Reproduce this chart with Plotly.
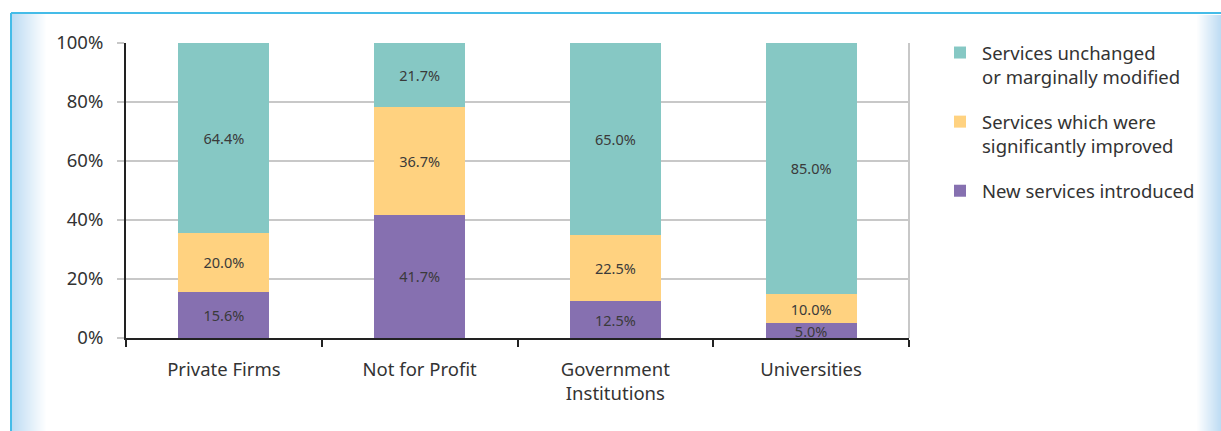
import plotly.graph_objects as go

categories = ["Private Firms", "Not for Profit", "Government<br>Institutions", "Universities"]
new_services = [15.6, 41.7, 12.5, 5.0]
improved = [20.0, 36.7, 22.5, 10.0]
unchanged = [64.4, 21.7, 65.0, 85.0]
series_names = [
    "New services introduced",
    "Services which were<br>significantly improved",
    "Services unchanged<br>or marginally modified",
]

W, H = 1221, 431
ML, MR, MT, MB = 126, W - 909, 43, H - 338
PW, PH = W - ML - MR, H - MT - MB


def px(x):
    return (x - ML) / PW


def py(y):
    return (H - MB - y) / PH


FONT = "Noto Sans"
colors = ["#8670B0", "#FFD280", "#86C8C4"]

fig = go.Figure()
for rank, (name, vals, col) in enumerate(
        zip(series_names, [new_services, improved, unchanged], colors)):
    fig.add_trace(go.Bar(
        x=categories, y=vals, name=name, marker_color=col, marker_line_width=0,
        text=[f"{v:.1f}%" for v in vals], textposition="inside",
        insidetextanchor="middle", textangle=0,
        textfont=dict(size=14.5, color="#3a3a3a", family=FONT),
        legendgroup=name, legendrank=1000 - rank, hoverinfo="skip",
    ))

shapes = []
# left and right gradient edges
n = 34
for i in range(n):
    a = 1 - i / n
    shapes.append(dict(type="rect", xref="paper", yref="paper",
                       x0=px(12 + i), x1=px(13 + i), y0=py(H), y1=py(14),
                       line_width=0, fillcolor=f"rgba(190,220,243,{a:.3f})", layer="below"))
n2 = 24
for i in range(n2):
    a = (i + 1) / n2
    shapes.append(dict(type="rect", xref="paper", yref="paper",
                       x0=px(1197 + i), x1=px(1198 + i), y0=py(H), y1=py(15),
                       line_width=0, fillcolor=f"rgba(190,220,243,{a:.3f})", layer="below"))
# blue frame lines
shapes.append(dict(type="line", xref="paper", yref="paper", x0=px(11), x1=px(W),
                   y0=py(13), y1=py(13), line=dict(color="#45BCE8", width=2)))
shapes.append(dict(type="line", xref="paper", yref="paper", x0=px(11), x1=px(11),
                   y0=py(13), y1=py(H), line=dict(color="#45BCE8", width=2)))
# right plot border
shapes.append(dict(type="line", xref="paper", yref="paper", x0=1, x1=1, y0=0, y1=1,
                   line=dict(color="#c8c8c8", width=2), layer="below"))

fig.update_layout(
    width=W, height=H,
    margin=dict(l=ML, r=MR, t=MT, b=MB, pad=0),
    barmode="stack", bargap=0.535,
    paper_bgcolor="white", plot_bgcolor="white",
    font=dict(family=FONT, color="#333333"),
    uniformtext=dict(minsize=14.5, mode="show"),
    showlegend=True,
    legend=dict(
        x=px(938), xanchor="left", y=py(34), yanchor="top",
        traceorder="grouped", tracegroupgap=18, valign="top",
        font=dict(size=18.5, color="#333333", family=FONT),
        itemwidth=34, bgcolor="rgba(0,0,0,0)",
    ),
    shapes=shapes,
    xaxis=dict(
        showline=True, linecolor="#222222", linewidth=2,
        ticks="outside", tickson="boundaries", ticklen=7, tickcolor="#222222", tickwidth=2,
        tickfont=dict(size=18.5, color="#333333"), showgrid=False,
        ticklabelstandoff=14,
    ),
    yaxis=dict(
        range=[0, 100], tick0=0, dtick=20, ticksuffix="%",
        showline=True, linecolor="#222222", linewidth=2,
        ticks="outside", ticklen=7, tickcolor="#c8c8c8", tickwidth=2,
        showgrid=True, gridcolor="#c8c8c8", gridwidth=2,
        tickfont=dict(size=18.5, color="#333333"), ticklabelstandoff=10,
        zeroline=False,
    ),
)

fig.write_html("out.html", config={"displayModeBar": False},
               post_script="document.body.style.margin='0';")
